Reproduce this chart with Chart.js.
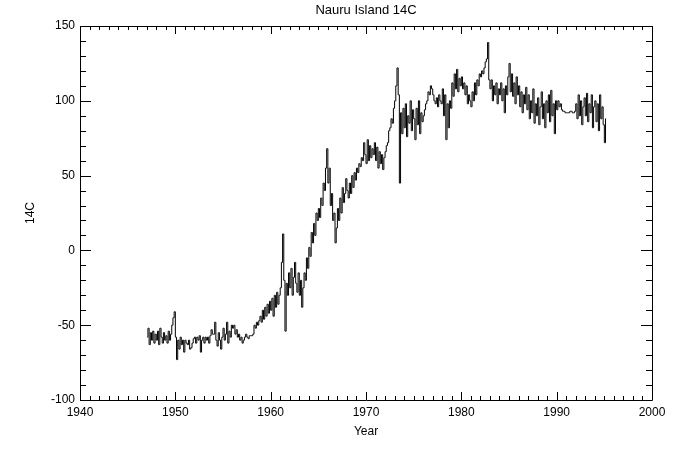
<!DOCTYPE html>
<html>
<head>
<meta charset="utf-8">
<script src="https://cdn.jsdelivr.net/npm/chart.js@4/dist/chart.umd.min.js"></script>
<style>
  html, body { margin: 0; padding: 0; background: #fff; }
  #wrap { width: 675px; height: 450px; }
</style>
</head>
<body>
<div id="wrap"><canvas id="nauruChart" width="675" height="450"></canvas></div>

<script>
// start year of each row of samples (8 samples per year)
var years = [1947, 1948, 1949, 1950, 1951, 1952, 1953, 1954, 1955, 1956,
             1957, 1958, 1959, 1960, 1961, 1962, 1963, 1964, 1965, 1966,
             1967, 1968, 1969, 1970, 1971, 1972, 1973, 1974, 1975, 1976,
             1977, 1978, 1979, 1980, 1981, 1982, 1983, 1984, 1985, 1986,
             1987, 1988, 1989, 1990, 1991, 1992, 1993, 1994, 1995]

var c14 = [
    [-58, -52, -63, -55, -60, -54, -62, -56],
    [-60, -54, -63, -52, -58, -62, -55, -60],
    [-57, -62, -54, -60, -56, -50, -45, -41],
    [-58, -73, -60, -66, -58, -63, -60, -68],
    [-60, -62, -63, -60, -66, -65, -62, -59],
    [-58, -62, -58, -60, -57, -68, -60, -58],
    [-62, -58, -60, -58, -62, -57, -53, -56],
    [-56, -48, -60, -64, -55, -60, -66, -58],
    [-52, -60, -56, -48, -62, -54, -58, -50],
    [-52, -50, -56, -53, -58, -56, -60, -58],
    [-62, -60, -58, -56, -58, -59, -57, -57],
    [-57, -56, -50, -52, -48, -50, -47, -44],
    [-48, -40, -46, -38, -44, -36, -42, -34],
    [-40, -32, -44, -30, -38, -28, -36, -30],
    [-25, -8, 11, -20, -54, -22, -30, -15],
    [-25, -12, -30, -18, -8, -22, -28, -15],
    [-30, -20, -38, -25, -15, -20, -5, -12],
    [2, -4, 12, 5, 18, 10, 25, 20],
    [28, 22, 35, 30, 45, 40, 55, 68],
    [45, 55, 30, 38, 20, 25, 5, 15],
    [28, 20, 35, 25, 42, 32, 38, 48],
    [40, 35, 45, 38, 50, 42, 52, 47],
    [55, 52, 58, 56, 62, 60, 72, 64],
    [58, 74, 60, 70, 62, 68, 64, 72],
    [60, 69, 55, 66, 58, 64, 54, 62],
    [66, 70, 72, 80, 82, 88, 85, 95],
    [100, 110, 122, 104, 45, 92, 78, 95],
    [82, 98, 76, 90, 85, 100, 80, 94],
    [88, 74, 95, 84, 100, 78, 92, 86],
    [90, 94, 98, 100, 106, 104, 110, 108],
    [104, 100, 98, 102, 96, 104, 100, 98],
    [108, 90, 104, 74, 98, 82, 100, 95],
    [112, 103, 118, 108, 121, 106, 115, 110],
    [116, 108, 112, 104, 110, 98, 104, 100],
    [96, 106, 100, 112, 104, 114, 110, 118],
    [116, 120, 118, 122, 126, 128, 139, 114],
    [108, 114, 100, 110, 104, 112, 98, 108],
    [104, 112, 100, 108, 92, 110, 104, 116],
    [125, 106, 118, 103, 112, 98, 116, 104],
    [110, 96, 106, 92, 104, 98, 109, 94],
    [104, 88, 100, 92, 108, 85, 98, 90],
    [102, 84, 96, 106, 88, 98, 82, 100],
    [92, 104, 86, 107, 90, 98, 78, 100],
    [94, 100, 96, 98, 94, 93, 93, 92],
    [92, 92, 92, 93, 93, 92, 92, 93],
    [98, 88, 104, 90, 100, 84, 96, 102],
    [90, 105, 86, 98, 92, 104, 82, 96],
    [100, 86, 98, 80, 104, 88, 96, 84],
    [72, 88]
]

var xTicks = [1940, 1950, 1960, 1970, 1980, 1990, 2000]
var yTicks = [-100, -50, 0, 50, 100, 150]

var points = []
for (let i = 0; i < years.length; i++) {
    for (let k = 0; k < c14[i].length; k++) {
        points.push({x: years[i] + k / 8 + 1 / 16, y: c14[i][k]})
    }
}

var labelFont = {family: 'Liberation Sans', size: 12}

// IDL style box with inward ticks on all four sides
var idlBox = {
    id: 'idlBox',
    afterDraw: function(chart) {
        var ctx = chart.ctx
        var a = chart.chartArea
        var xs = chart.scales.x
        var ys = chart.scales.y
        ctx.save()
        ctx.strokeStyle = '#000'
        ctx.lineWidth = 1
        ctx.beginPath()
        ctx.rect(Math.round(a.left) + 0.5, Math.round(a.top) + 0.5,
                 Math.round(a.right - a.left), Math.round(a.bottom - a.top))
        for (let v = 1940; v <= 2000; v++) {
            let px = Math.round(xs.getPixelForValue(v)) + 0.5
            let len = (v % 10 == 0) ? 8 : 4
            ctx.moveTo(px, a.bottom); ctx.lineTo(px, a.bottom - len)
            ctx.moveTo(px, a.top); ctx.lineTo(px, a.top + len)
        }
        for (let v = -100; v <= 150; v += 10) {
            let py = Math.round(ys.getPixelForValue(v)) + 0.5
            let len = (v % 50 == 0) ? 11 : 6
            ctx.moveTo(a.left, py); ctx.lineTo(a.left + len, py)
            ctx.moveTo(a.right, py); ctx.lineTo(a.right - len, py)
        }
        ctx.stroke()
        ctx.restore()
    }
}

var ctx = document.getElementById('nauruChart').getContext('2d')

var chart = new Chart(ctx, {
    type: 'line',
    data: {
        datasets: [{
            label: '14C',
            data: points,
            borderColor: '#000',
            borderWidth: 1,
            pointRadius: 0,
            fill: false,
            stepped: 'middle'
        }]
    },
    options: {
        responsive: false,
        animation: false,
        layout: {padding: {top: 0, right: 23, left: 0, bottom: 0}},
        plugins: {
            legend: {display: false},
            tooltip: {enabled: false},
            title: {
                display: true,
                text: 'Nauru Island 14C',
                fullSize: false,
                color: '#000',
                font: {family: 'Liberation Sans', size: 13, weight: 'normal'},
                padding: {top: 3, bottom: 7.4}
            }
        },
        scales: {
            x: {
                type: 'linear',
                min: 1940,
                max: 2000,
                afterBuildTicks: function(s) { s.ticks = xTicks.map(v => ({value: v})) },
                afterFit: function(s) { s.height = 50 },
                grid: {display: false, drawTicks: false},
                border: {display: false},
                ticks: {color: '#000', font: labelFont, padding: 5, maxRotation: 0,
                        autoSkip: false, callback: v => String(v)},
                title: {display: true, text: 'Year', color: '#000', font: labelFont,
                        padding: {top: 0, bottom: 11}}
            },
            y: {
                type: 'linear',
                min: -100,
                max: 150,
                afterBuildTicks: function(s) { s.ticks = yTicks.map(v => ({value: v})) },
                afterFit: function(s) { s.width = 80 },
                grid: {display: false, drawTicks: false},
                border: {display: false},
                ticks: {color: '#000', font: labelFont, padding: 5, autoSkip: false},
                title: {display: true, text: '14C', color: '#000', font: labelFont,
                        padding: {top: 23, bottom: 0}}
            }
        }
    },
    plugins: [idlBox]
})
</script>
</body>
</html>
